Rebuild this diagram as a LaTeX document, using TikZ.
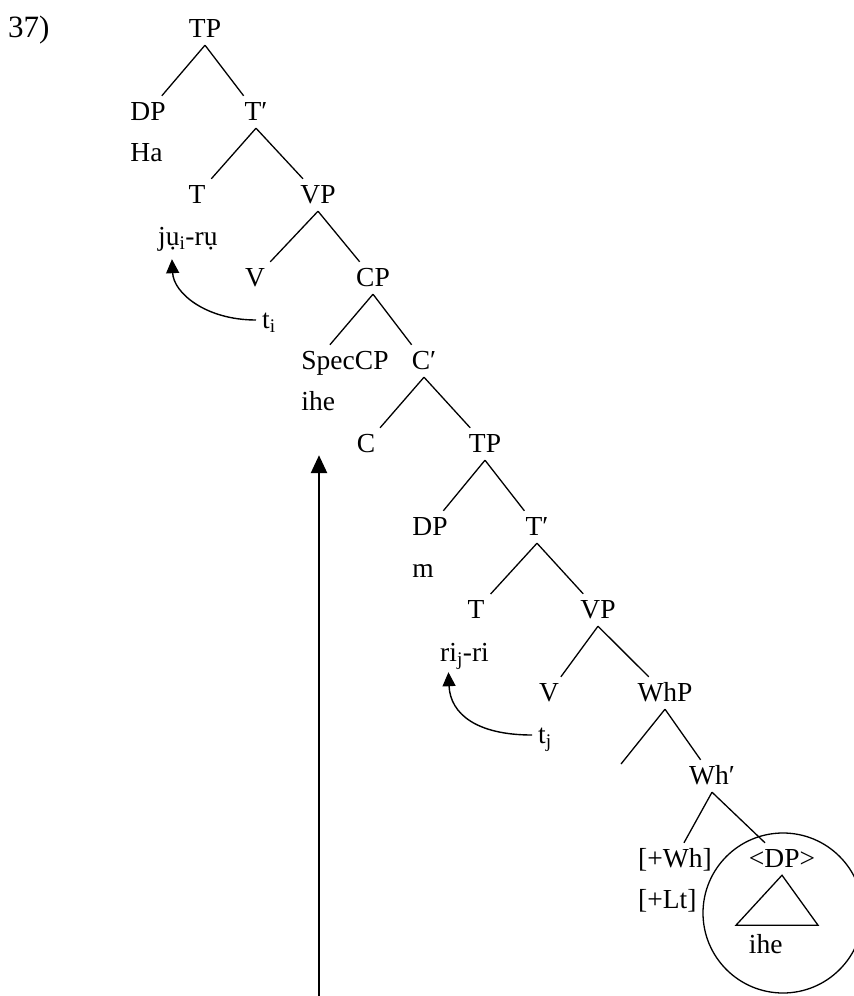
\documentclass[tikz,border=0pt]{standalone}
\usepackage{fontspec}
\setmainfont{Liberation Serif}
\usepackage{tikz}
\usetikzlibrary{arrows.meta, positioning, calc}

\begin{document}
\begin{tikzpicture}[
  x=1pt, y=-1pt,
  font=\fontsize{27.5}{33}\selectfont,
  cat/.style={inner sep=6pt, text height=18pt, text depth=2pt, anchor=base},
  word/.style={inner sep=6pt, text height=18pt, text depth=2pt, anchor=base west},
  branch/.style={line width=1.3pt},
  trace/.style={-{Triangle[width=13pt,length=14pt]}, line width=1.4pt},
  mvarr/.style={-{Triangle[width=16pt,length=18pt]}, line width=2.6pt}
]
  \useasboundingbox (0,0) rectangle (854,996);

  \node[word, font=\fontsize{31}{36}\selectfont] (ex) at (2,37) {37)};

  % matrix clause
  \node[cat] (tp)     at (205,37)  {TP};
  \node[cat] (dp)     at (148,120) {DP};
  \node[cat] (tbar)   at (256,120) {T′};
  \node[cat] (t)      at (197,203) {T};
  \node[cat] (vp)     at (318,203) {VP};
  \node[cat] (v)      at (255,286) {V};
  \node[cat] (cp)     at (373,286) {CP};
  \node[cat] (speccp) at (345,369) {SpecCP};
  \node[cat] (cbar)   at (424,369) {C′};
  \node[cat] (c)      at (366,452) {C};

  % embedded clause
  \node[cat] (tpe)    at (485,452) {TP};
  \node[cat] (dpe)    at (430,535) {DP};
  \node[cat] (tbare)  at (537,535) {T′};
  \node[cat] (te)     at (476,618) {T};
  \node[cat] (vpe)    at (598,618) {VP};
  \node[cat] (ve)     at (549,701) {V};
  \node[cat] (whp)    at (665,701) {WhP};
  \node[cat] (whbar)  at (712,784) {Wh′};
  \node[cat] (whf)    at (675,867) {[+Wh]};
  \node[cat] (dpwh)   at (782,867) {<DP>};
  \coordinate (whspec) at (621,764);

  % lexical material
  \node[word] (ha)  at ([yshift=-41pt]dp.base west)     {Ha};
  \node[word] (ihe) at ([yshift=-41pt]speccp.base west) {ihe};
  \node[word] (m)   at ([yshift=-42pt]dpe.base west)    {m};
  \node[word] (lt)  at ([yshift=-41pt]whf.base west)    {[+Lt]};
  \node[word] (ihew) at ([yshift=-86pt]dpwh.base west)  {ihe};
  \node[word] (jui) at (152,245) {jụ\textsubscript{i}-rụ};
  \node[word] (rij) at (434,661) {ri\textsubscript{j}-ri};
  \node[word] (ti)  at (256,328) {t\textsubscript{i}};
  \node[word] (tj)  at (532,743) {t\textsubscript{j}};

  % branches
  \draw[branch] (tp.south) -- (dp);
  \draw[branch] (tp.south) -- (tbar);
  \draw[branch] (tbar.south) -- (t);
  \draw[branch] (tbar.south) -- (vp);
  \draw[branch] (vp.south) -- (v);
  \draw[branch] (vp.south) -- (cp);
  \draw[branch] (cp.south) -- (speccp.133);
  \draw[branch] (cp.south) -- (cbar);
  \draw[branch] (cbar.south) -- (c);
  \draw[branch] (cbar.south) -- (tpe);
  \draw[branch] (tpe.south) -- (dpe);
  \draw[branch] (tpe.south) -- (tbare);
  \draw[branch] (tbare.south) -- (te);
  \draw[branch] (tbare.south) -- (vpe);
  \draw[branch] (vpe.south) -- (ve);
  \draw[branch] (vpe.south) -- (whp);
  \draw[branch] (whp.south) -- (whspec);
  \draw[branch] (whp.south) -- (whbar);
  \draw[branch] (whbar.south) -- (whf);
  \draw[branch] (whbar.south) -- (dpwh);

  % triangle and circle round the moved DP
  \draw[branch] (dpwh.south) -- ++(-46,50) -- ++(82,0) -- cycle;
  \draw[branch] (783,913) circle[radius=80];

  % head movement
  \draw[trace, shorten >=6pt] (ti.west) .. controls +(-50,0) and +(2,40) .. (jui.225);
  \draw[trace, shorten >=3pt] (tj.west) .. controls +(-55,0) and +(2,45) .. (rij.225);

  % wh-movement
  \coordinate (mvfoot) at (319,1000);
  \draw[mvarr, shorten >=37pt] (mvfoot) -- (mvfoot |- ihe.south);
\end{tikzpicture}
\end{document}
